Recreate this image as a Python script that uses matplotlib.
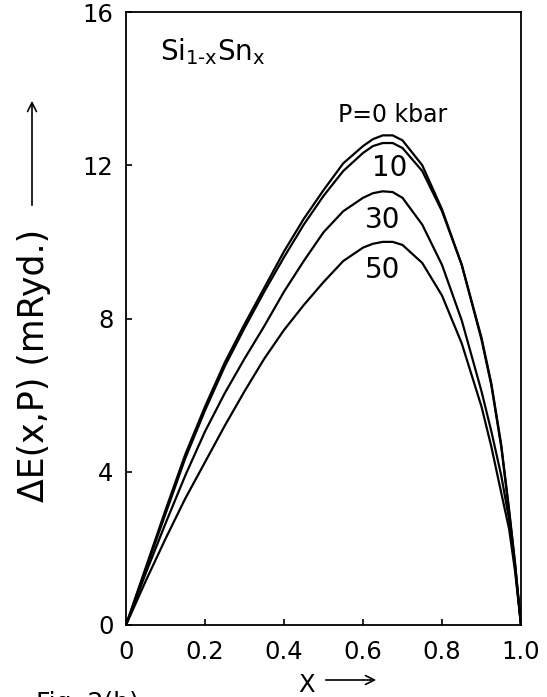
import numpy as np
import matplotlib
matplotlib.use("Agg")
import matplotlib.pyplot as plt

# composition x and mixing energy (mRyd), one list per pressure
x_frac = [0, 0.05, 0.1, 0.15, 0.2, 0.25, 0.3, 0.35, 0.4, 0.45, 0.5, 0.55, 0.6,
          0.625, 0.65, 0.675, 0.7, 0.75, 0.8, 0.85, 0.9, 0.925, 0.95, 0.97, 0.985, 1.0]
dE_p0 = [0, 1.5, 3.0, 4.45, 5.7, 6.85, 7.85, 8.8, 9.75, 10.6, 11.35, 12.05, 12.5,
         12.68, 12.78, 12.78, 12.65, 12.0, 10.85, 9.4, 7.5, 6.3, 4.7, 3.0, 1.6, 0]
dE_p10 = [0, 1.45, 2.9, 4.35, 5.6, 6.75, 7.75, 8.7, 9.6, 10.45, 11.2, 11.85, 12.32,
          12.5, 12.58, 12.58, 12.45, 11.85, 10.8, 9.4, 7.45, 6.25, 4.65, 2.95, 1.6, 0]
dE_p30 = [0, 1.35, 2.65, 3.9, 5.05, 6.05, 6.95, 7.8, 8.7, 9.5, 10.25, 10.8, 11.15,
          11.27, 11.32, 11.3, 11.15, 10.45, 9.4, 7.95, 6.1, 5.05, 3.9, 2.75, 1.5, 0]
dE_p50 = [0, 1.15, 2.25, 3.3, 4.25, 5.2, 6.1, 6.95, 7.7, 8.35, 8.95, 9.5, 9.85,
          9.95, 10.0, 10.0, 9.92, 9.45, 8.6, 7.35, 5.7, 4.65, 3.45, 2.5, 1.4, 0]

curve_labels = ["P=0 kbar", "10", "30", "50"]
xticks = [0, 0.2, 0.4, 0.6, 0.8, 1.0]
xticklabels = ["0", "0.2", "0.4", "0.6", "0.8", "1.0"]
yticks = [0, 4, 8, 12, 16]
yticklabels = ["0", "4", "8", "12", "16"]

W, H = 547, 697
fig = plt.figure(figsize=(W / 100, H / 100), dpi=100)
ax = fig.add_axes([126 / W, 1 - 625 / H, 395 / W, 613 / H])

for dE in (dE_p0, dE_p10, dE_p30, dE_p50):
    ax.plot(x_frac, dE, color="black", lw=1.6)

ax.set_xlim(0, 1)
ax.set_ylim(0, 16)
ax.set_xticks(xticks, xticklabels)
ax.set_yticks(yticks, yticklabels)
ax.tick_params(direction="in", length=4, width=1.2, labelsize=17.5)
ax.tick_params(axis="x", pad=11)
ax.tick_params(axis="y", pad=9)
for sp in ax.spines.values():
    sp.set_linewidth(1.3)

# curve labels
ax.text(0.537, 13.13, curve_labels[0], fontsize=17, ha="left", va="baseline")
ax.text(0.668, 11.93, curve_labels[1], fontsize=20, ha="center", va="center")
ax.text(0.65, 10.58, curve_labels[2], fontsize=20, ha="center", va="center")
ax.text(0.65, 9.27, curve_labels[3], fontsize=20, ha="center", va="center")

ax.text(0.085, 14.75, r"Si$_{\mathrm{1\text{-}x}}$Sn$_{\mathrm{x}}$", fontsize=20,
        ha="left", va="baseline")

# axis labels with arrows
fig.text(34 / W, 1 - 365 / H, "ΔE(x,P) (mRyd.)", rotation=90, ha="center",
         va="center", fontsize=25)
fig.add_artist(plt.Annotation("", xy=(32 / W, 1 - 98 / H), xytext=(32 / W, 1 - 208 / H),
                              xycoords="figure fraction", textcoords="figure fraction",
                              arrowprops=dict(arrowstyle="->", lw=1.2, mutation_scale=16)))

fig.text(307 / W, 1 - 685 / H, "X", ha="center", va="center", fontsize=17.5)
fig.add_artist(plt.Annotation("", xy=(379 / W, 1 - 680 / H), xytext=(323 / W, 1 - 680 / H),
                              xycoords="figure fraction", textcoords="figure fraction",
                              arrowprops=dict(arrowstyle="->", lw=1.2, mutation_scale=16)))

fig.text(36 / W, 1 - 691 / H, "Fig. 2(b)", ha="left", va="top", fontsize=18)

fig.savefig("out.png", dpi=100)
